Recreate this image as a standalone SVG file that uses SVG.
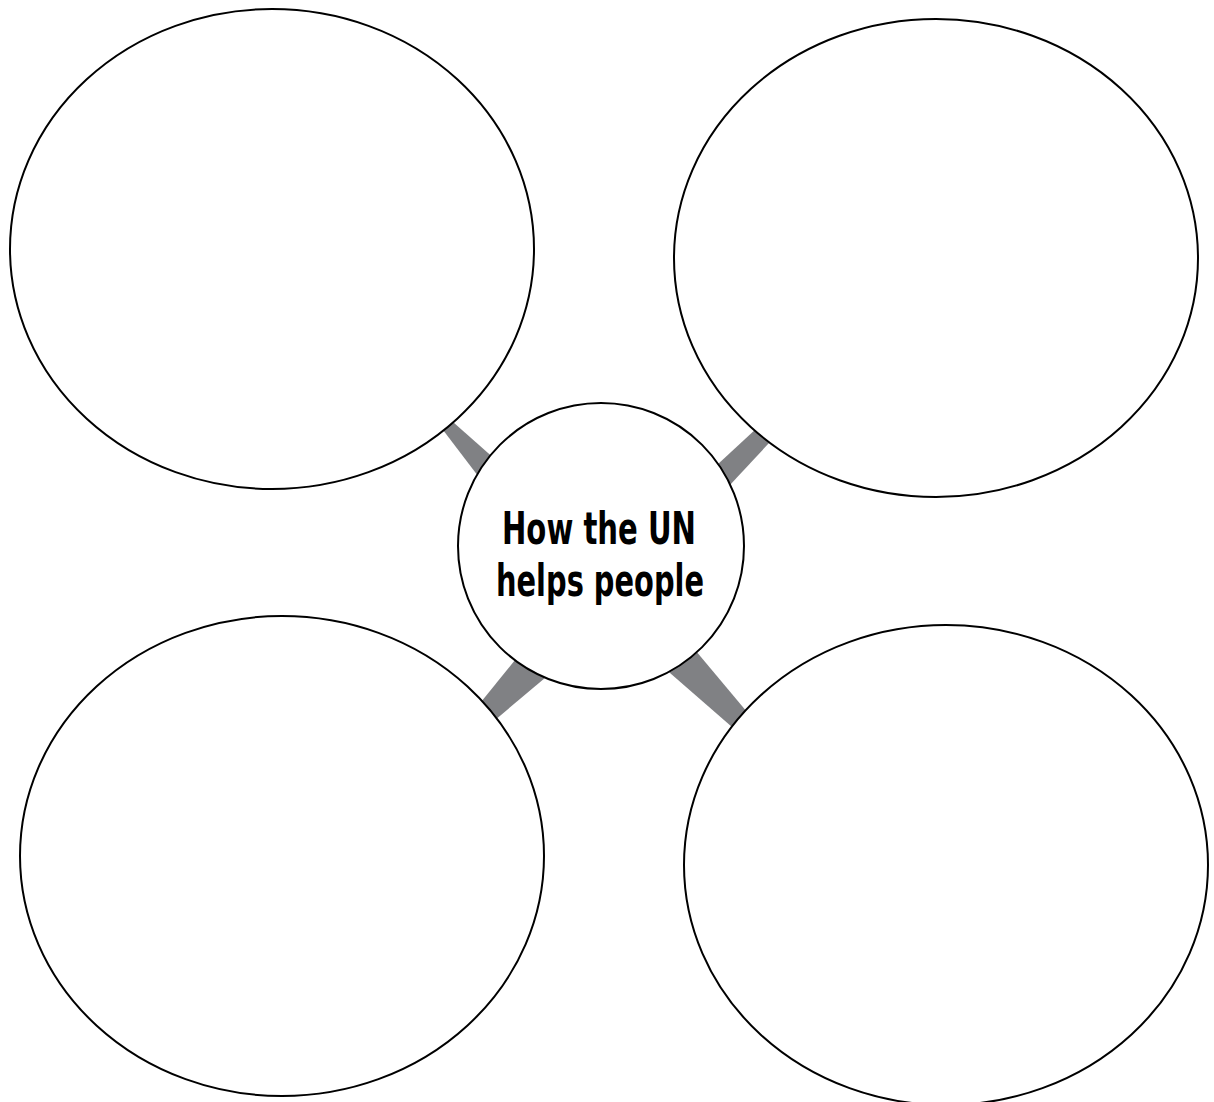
<svg xmlns="http://www.w3.org/2000/svg" width="1214" height="1102" viewBox="0 0 1214 1102">
<style>
.node{fill:#fff;stroke:#000;stroke-width:2}
.conn{fill:#808184;stroke:none}
.label{font-family:"Liberation Sans Narrow","DejaVu Sans Condensed","Liberation Sans",sans-serif;font-size:44px;font-weight:bold;fill:#000;text-anchor:middle}
</style>
<rect width="1214" height="1102" fill="#fff"/>
<g id="connectors">
<polygon class="conn" points="427,409 436,407 505,468 491,493"/>
<polygon class="conn" points="769,417 784,427 715,501 704,477"/>
<polygon class="conn" points="528,644 564,662 476,736 468,718"/>
<polygon class="conn" points="675,626 768,737 763,754 639,646"/>
</g>
<g id="node-top-left"><ellipse class="node" cx="272" cy="249" rx="262" ry="240"/></g>
<g id="node-top-right"><ellipse class="node" cx="936" cy="258" rx="262" ry="239"/></g>
<g id="node-bottom-left"><ellipse class="node" cx="282" cy="856" rx="262" ry="240"/></g>
<g id="node-bottom-right"><ellipse class="node" cx="946" cy="865" rx="262" ry="240"/></g>
<g id="node-center">
<circle class="node" cx="601" cy="546" r="143"/>
<text class="label" x="599" y="544" textLength="194" lengthAdjust="spacingAndGlyphs">How the UN</text>
<text class="label" x="600" y="596" textLength="208" lengthAdjust="spacingAndGlyphs">helps people</text>
</g>
</svg>
